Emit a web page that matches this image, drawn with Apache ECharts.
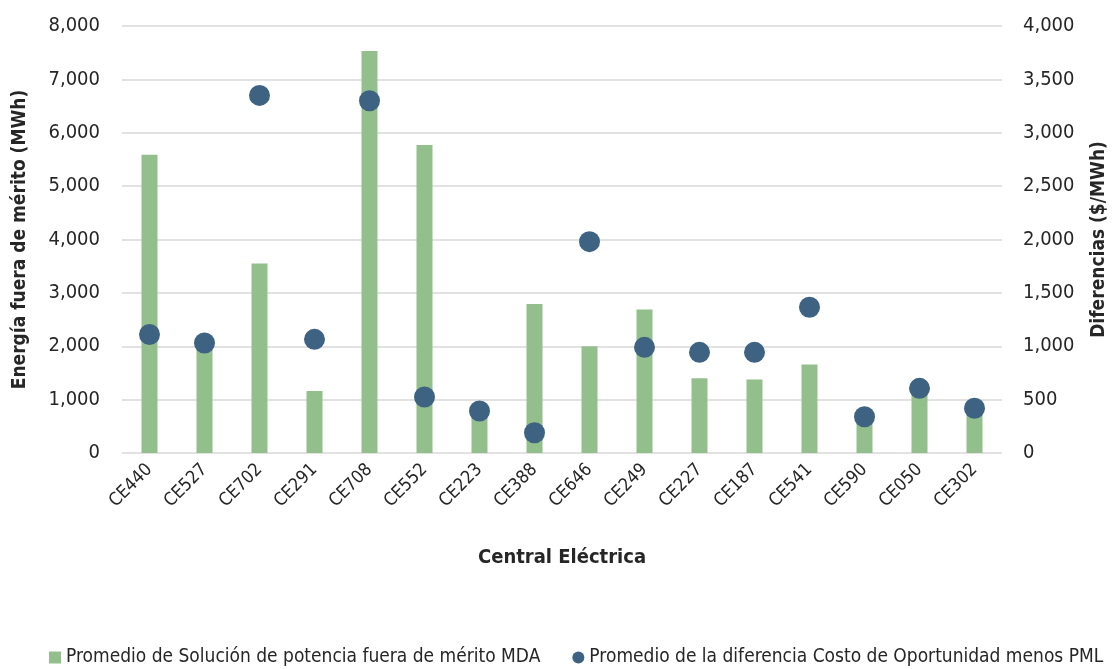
<!DOCTYPE html>
<html>
<head>
<meta charset="utf-8">
<script src="https://cdn.jsdelivr.net/npm/echarts@6/dist/echarts.min.js"></script>
<style>
  html, body { margin: 0; padding: 0; background: #fff; }
  #chart { width: 1112px; height: 669px; }
</style>
</head>
<body>
<div id="chart"></div>
<script>
// datos
var centrales = ['CE440', 'CE527', 'CE702', 'CE291', 'CE708', 'CE552', 'CE223', 'CE388',
                 'CE646', 'CE249', 'CE227', 'CE187', 'CE541', 'CE590', 'CE050', 'CE302'];
var energiaFueraMerito = [5590, 1980, 3550, 1160, 7530, 5770, 750, 2790,
                          2000, 2690, 1400, 1375, 1660, 620, 1130, 860];
var diferenciaCosto = [1110, 1030, 3350, 1065, 3300, 525, 393, 190,
                       1980, 990, 943, 943, 1365, 340, 606, 419];

var fuente = '"Liberation Sans Narrow", "Arial Narrow", "DejaVu Sans Condensed", "Liberation Sans", sans-serif';
var colorTexto = '#262626';

function grafico(divId) {
    var myChart = echarts.init(document.getElementById(divId));
    var option = {
        animation: false,
        textStyle: { fontFamily: fuente, color: colorTexto },
        grid: {
            left: 122,
            right: 110,
            top: 26,
            bottom: 216,
            outerBoundsMode: 'none'
        },
        legend: {
            left: 44,
            bottom: -3,
            itemGap: 32,
            itemWidth: 12,
            itemHeight: 12,
            textStyle: { fontFamily: fuente, fontSize: 19, color: colorTexto },
            data: [
                { name: 'Promedio de Solución de potencia fuera de mérito MDA', icon: 'rect' },
                { name: 'Promedio de la diferencia Costo de Oportunidad menos PML', icon: 'circle' }
            ]
        },
        xAxis: {
            type: 'category',
            data: centrales,
            name: 'Central Eléctrica',
            nameLocation: 'middle',
            nameGap: 95,
            nameTextStyle: { fontFamily: fuente, fontSize: 20, fontWeight: 'bold', color: colorTexto },
            axisLine: { show: false },
            axisTick: { show: false },
            axisLabel: {
                rotate: 45,
                margin: 14,
                interval: 0,
                fontFamily: fuente,
                fontSize: 18,
                color: colorTexto
            }
        },
        yAxis: [
            {
                type: 'value',
                min: 0,
                max: 8000,
                interval: 1000,
                name: 'Energía fuera de mérito (MWh)',
                nameLocation: 'middle',
                nameGap: 92,
                nameTextStyle: { fontFamily: fuente, fontSize: 19, fontWeight: 'bold', color: colorTexto },
                axisLine: { show: false },
                axisTick: { show: false },
                axisLabel: {
                    margin: 22,
                    fontFamily: fuente,
                    fontSize: 20,
                    color: colorTexto,
                    formatter: function (v) { return v.toLocaleString('en-US'); }
                },
                splitLine: { lineStyle: { color: '#d9d9d9', width: 1.5 } }
            },
            {
                type: 'value',
                min: 0,
                max: 4000,
                interval: 500,
                name: 'Diferencias ($/MWh)',
                nameLocation: 'middle',
                nameGap: 88,
                nameTextStyle: { fontFamily: fuente, fontSize: 19, fontWeight: 'bold', color: colorTexto },
                axisLine: { show: false },
                axisTick: { show: false },
                axisLabel: {
                    margin: 21,
                    fontFamily: fuente,
                    fontSize: 20,
                    color: colorTexto,
                    formatter: function (v) { return v.toLocaleString('en-US'); }
                },
                splitLine: { show: false }
            }
        ],
        series: [
            {
                name: 'Promedio de Solución de potencia fuera de mérito MDA',
                type: 'bar',
                yAxisIndex: 0,
                barWidth: 16,
                data: energiaFueraMerito,
                itemStyle: { color: '#93bf8c' }
            },
            {
                name: 'Promedio de la diferencia Costo de Oportunidad menos PML',
                type: 'scatter',
                yAxisIndex: 1,
                symbol: 'circle',
                symbolSize: 21,
                data: diferenciaCosto,
                itemStyle: { color: '#3e6282', opacity: 1 }
            }
        ]
    };
    myChart.clear();
    myChart.setOption(option);
    return myChart;
}

var myChart = grafico('chart');
</script>
</body>
</html>
